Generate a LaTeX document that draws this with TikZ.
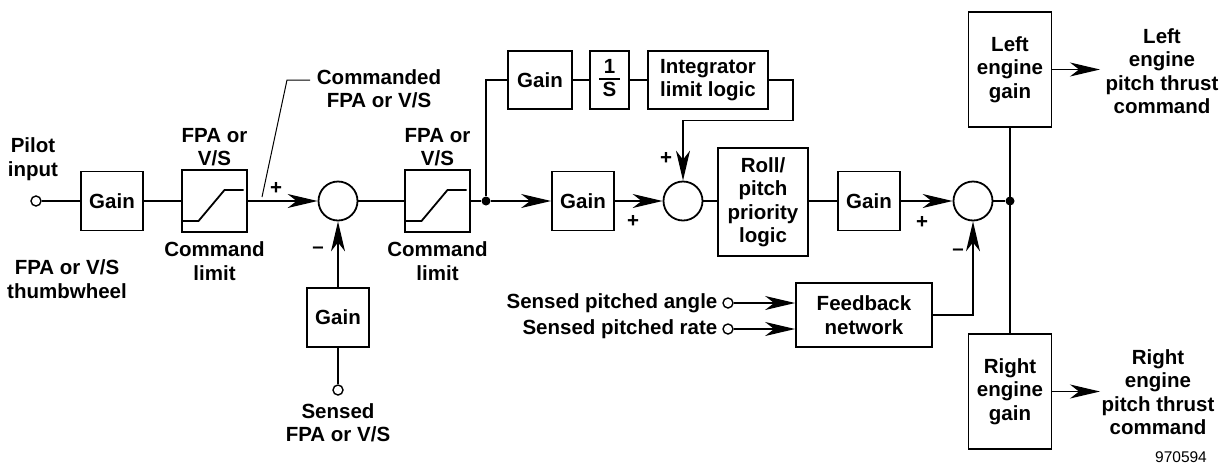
\documentclass[tikz,border=0pt]{standalone}
\usepackage{fontspec}
\setmainfont{Liberation Sans}
\usetikzlibrary{arrows.meta}

\begin{document}
\begin{tikzpicture}[x=1pt,y=-1pt,line width=1.3pt,>={Stealth[length=30pt,width=14pt,inset=9pt]},
            every node/.style={font=\fontsize{20.5}{23.5}\selectfont\bfseries,inner sep=0pt,align=center},
            blk/.style={draw,line width=1.8pt,minimum width=62pt,minimum height=59pt},
            limiter/.style={blk,minimum width=65pt,minimum height=62pt},
            sum/.style={draw,circle,line width=1.8pt,minimum size=39pt},
            port/.style={draw,circle,line width=1.4pt,minimum size=10pt,fill=white},
            junc/.style={circle,fill,minimum size=9pt}]
            \useasboundingbox (0,0) rectangle (1225,464);
            \node[port] (pilot) at (36,201) {};
            \node[blk] (gainA) at (112,201) {Gain};
            \node[limiter] (limA) at (214.5,201) {};
            \node[sum] (sumA) at (338,201) {};
            \node[blk] (gainB) at (338,317.5) {Gain};
            \node[port] (sensPort) at (338,390) {};
            \node[limiter] (limB) at (437.5,201) {};
            \node[junc] (dotA) at (486,201) {};
            \node[blk,minimum width=64pt,minimum height=58pt] (gainC) at (540,80) {Gain};
            \node[blk,minimum width=39pt,minimum height=58pt] (intS) at (609.5,80)
                {\setlength{\arrayrulewidth}{1.8pt}\begin{tabular}{@{\,}c@{\,}}1\\[-2pt]\hline S\end{tabular}};
            \node[blk,minimum width=120pt,minimum height=58pt] (intLim) at (708,80) {Integrator\\limit logic};
            \node[blk] (gainD) at (583,201) {Gain};
            \node[sum] (sumB) at (683,201) {};
            \node[blk,minimum width=90pt,minimum height=108pt] (roll) at (763,202) {Roll/\\pitch\\priority\\logic};
            \node[blk] (gainE) at (869,201) {Gain};
            \node[sum] (sumC) at (973,201) {};
            \node[junc] (dotB) at (1010,201) {};
            \node[blk,minimum width=83pt,minimum height=115pt] (leftG) at (1010,69.5) {Left\\engine\\gain};
            \node[blk,minimum width=83pt,minimum height=115pt] (rightG) at (1010,391.5) {Right\\engine\\gain};
            \node[blk,minimum width=136pt,minimum height=64pt] (fb) at (864,315) {Feedback\\network};
            \node[port] (anglePort) at (728,303) {};
            \node[port] (ratePort) at (728,329) {};
            \coordinate (leftEnd) at (1100,69.5);
            \coordinate (rightEnd) at (1100,391.5);
            \coordinate (cmdPt) at (262,197);
            \coordinate (cmdBend) at (287,80);
            \coordinate (cmdKnee) at (310,80);

            \node (pilotLbl) at (33,159) {Pilot\\input};
            \node (thumbLbl) at (67,279) {FPA or V/S\\thumbwheel};
            \node (limAtop) at (214.5,147) {FPA or\\V/S};
            \node (limAbot) at (214.5,261) {Command\\limit};
            \node (limBtop) at (437.5,147) {FPA or\\V/S};
            \node (limBbot) at (437.5,261) {Command\\limit};
            \node (cmdLbl) at (379,89) {Commanded\\FPA or V/S};
            \node (sensLbl) at (338,423) {Sensed\\FPA or V/S};
            \node[anchor=east] (angleLbl) at (718,303) {Sensed pitched angle};
            \node[anchor=east] (rateLbl) at (718,329) {Sensed pitched rate};
            \node (leftOut) at (1162,71) {Left\\engine\\pitch thrust\\command};
            \node (rightOut) at (1158,392) {Right\\engine\\pitch thrust\\command};
            \node[font=\fontsize{15.5}{18}\selectfont] (figNo) at (1181,457) {970594};
            \node (plusA) at (276,188) {+};
            \node (minusA) at (318,250) {--};
            \node (plusB) at (666,158) {+};
            \node (plusC) at (633,221) {+};
            \node (plusD) at (922,222) {+};
            \node (minusB) at (958,252) {--};

            \foreach \b in {limA,limB}
                \draw[line width=1.8pt] (\b.center) ++(-32,20) -- ++(16,0) -- ++(26,-31) -- ++(19,0);

            \draw (pilot) -- (gainA);
            \draw (gainA) -- (limA);
            \draw[->] (limA) -- (sumA);
            \draw (sumA) -- (limB);
            \draw (limB) -- (dotA);
            \draw[->] (dotA) -- (gainD);
            \draw[->] (gainD) -- (sumB);
            \draw (sumB) -- (roll.west |- sumB);
            \draw (roll.east |- gainE) -- (gainE);
            \draw[->] (gainE) -- (sumC);
            \draw (sumC) -- (dotB);
            \draw (leftG) -- (rightG);
            \draw[->] (leftG.east) -- (leftEnd);
            \draw[->] (rightG.east) -- (rightEnd);
            \draw (sensPort) -- (gainB);
            \draw[->] (gainB) -- (sumA);
            \draw (dotA) |- (gainC);
            \draw (gainC) -- (intS);
            \draw (intS) -- (intLim);
            \draw[->] (intLim.east) -- ++(24,0) |- ([yshift=60pt]sumB.north) -- (sumB.north);
            \draw[->] (fb.east) -| (sumC.south);
            \draw[->] (anglePort) -- (anglePort -| fb.west);
            \draw[->] (ratePort) -- (ratePort -| fb.west);
            \draw[line width=1pt] (cmdPt) -- (cmdBend) -- (cmdKnee);
        \end{tikzpicture}
\end{document}
